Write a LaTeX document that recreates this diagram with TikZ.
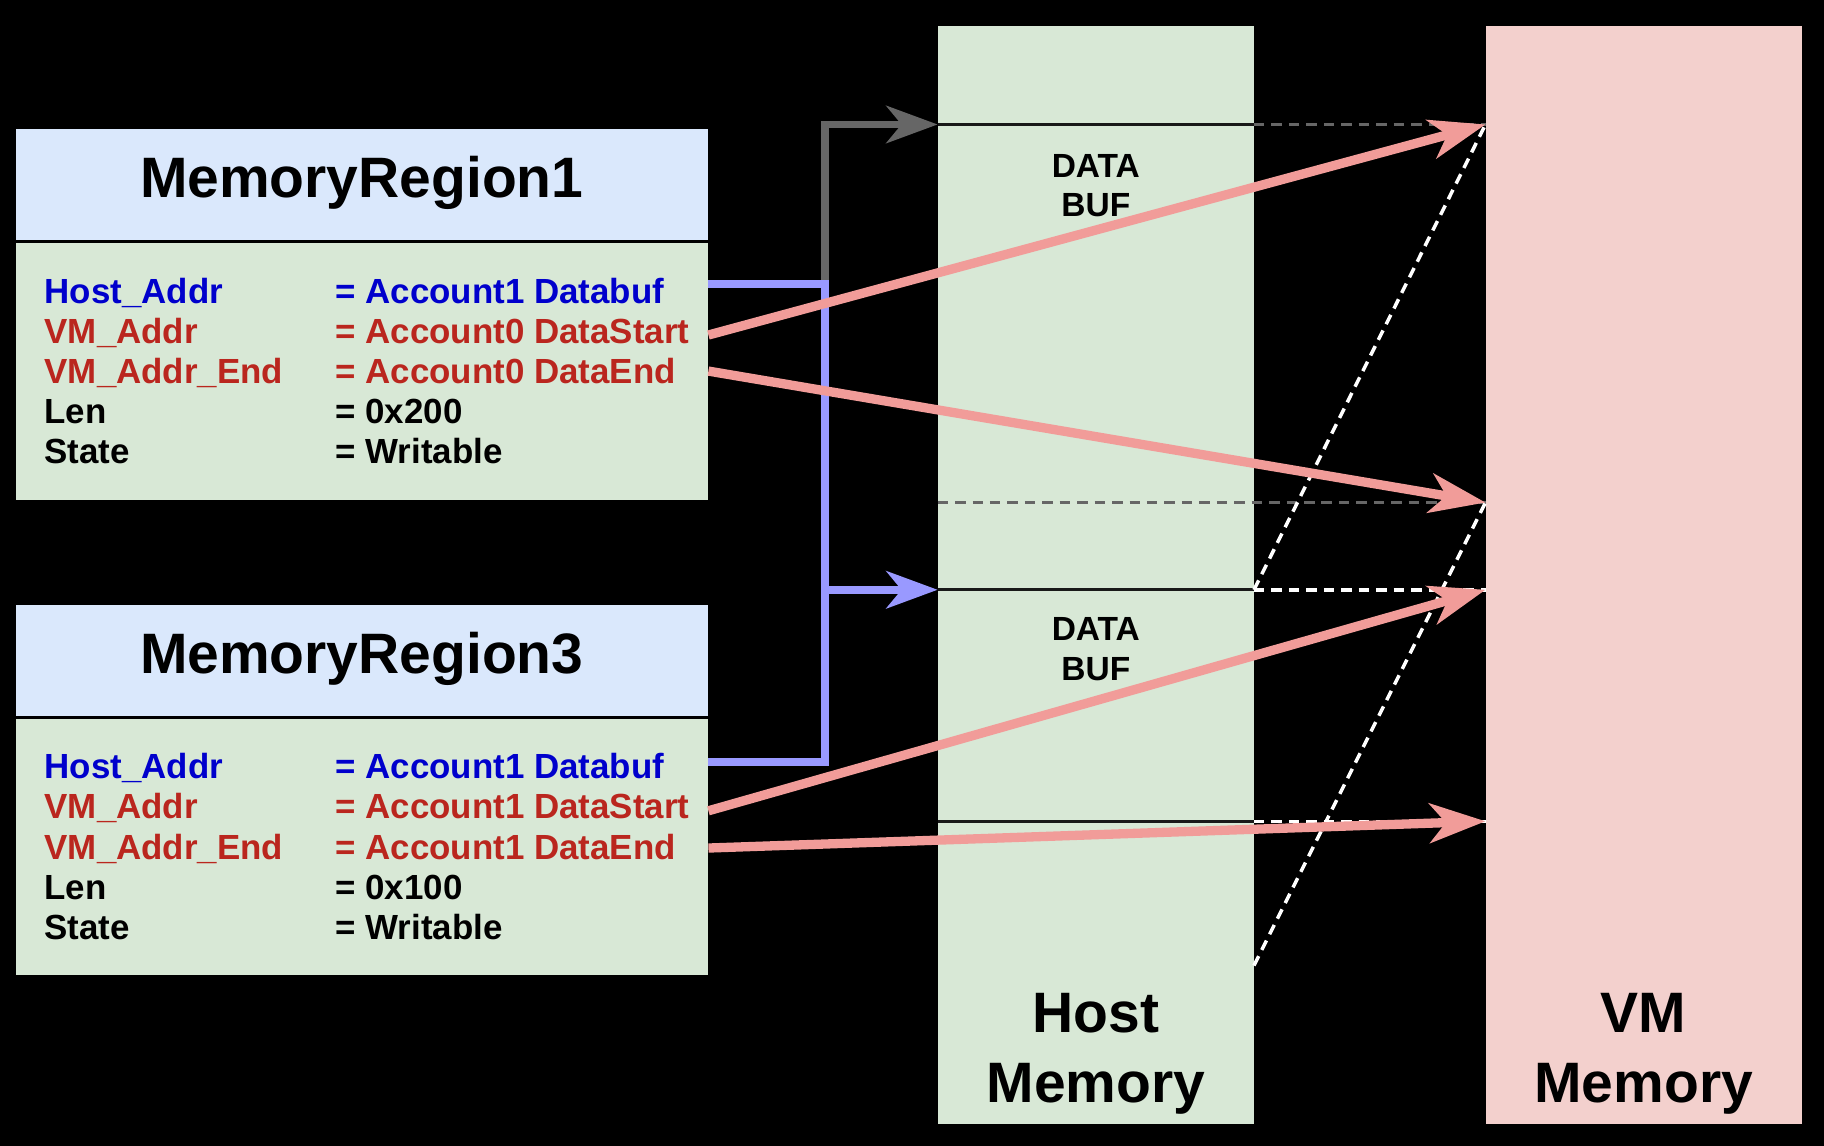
\documentclass[tikz,border=0pt]{standalone}
\usepackage{fontspec}
\setmainfont{Liberation Sans}
\usetikzlibrary{arrows.meta}
\definecolor{hdr}{HTML}{DAE8FC}
\definecolor{grn}{HTML}{D8E8D6}
\definecolor{vmc}{HTML}{F3D0CD}
\definecolor{bluet}{HTML}{0000CC}
\definecolor{redt}{HTML}{BA261E}
\definecolor{pinkc}{HTML}{F19C99}
\definecolor{lav}{HTML}{9999FF}
\definecolor{grayc}{HTML}{666666}
\begin{document}
\begin{tikzpicture}[x=0.5pt,y=-0.5pt,
  boxnw/.style={anchor=north west,inner sep=0pt,outer sep=0pt,draw=black,line width=0.8pt},
  rowtxt/.style={anchor=base west,inner sep=0pt,font=\fontsize{15}{18}\selectfont\bfseries},
  titletxt/.style={anchor=base,inner sep=0pt,font=\fontsize{24.5}{29}\selectfont\bfseries},
  buftxt/.style={anchor=base,inner sep=0pt,font=\fontsize{14.4}{17}\selectfont\bfseries},
  tip/.style={-{Stealth[length=22pt,width=16pt,inset=6.5pt]}},
  pinktip/.style={-{Stealth[length=24pt,width=17pt,inset=7pt]}},
  pinkarrow/.style={pinktip,draw=pinkc,line width=4pt},
  lavline/.style={draw=lav,line width=3.4pt},
  grayline/.style={draw=grayc,line width=3.4pt},
  sepline/.style={draw=black!90,line width=1.3pt},
  graydash/.style={draw=grayc,line width=1.5pt,dash pattern=on 4.5pt off 3pt},
  whitedash/.style={draw=white,line width=1.5pt,dash pattern=on 4.5pt off 3pt}
]
\fill[black] (0,0) rectangle (1568,985);
\useasboundingbox (0,0) rectangle (1568,985);

% memory columns
\node[boxnw,draw=none,fill=grn,minimum width=136pt,minimum height=472pt] (host) at (806,22) {};
\node[boxnw,draw=none,fill=vmc,minimum width=136pt,minimum height=472pt] (vm) at (1277,22) {};

% region boxes
\node[boxnw,fill=hdr,minimum width=298pt,minimum height=48.5pt] (h1) at (13,110) {};
\node[boxnw,fill=grn,minimum width=298pt,minimum height=111.5pt] (b1) at (13,208) {};
\node[boxnw,fill=hdr,minimum width=298pt,minimum height=48.5pt] (h3) at (13,519) {};
\node[boxnw,fill=grn,minimum width=298pt,minimum height=111pt] (b3) at (13,617) {};

\node[titletxt] (t1) at (311,170) {MemoryRegion1};
\node[titletxt] (t3) at (311,579) {MemoryRegion3};

% region 1 rows
\node[rowtxt,text=bluet] (r1a) at (38,260.5) {Host\_Addr};
\node[rowtxt,text=bluet] (r1av) at (288,260.5) {= Account1 Databuf};
\node[rowtxt,text=redt] (r1b) at (38,295) {VM\_Addr};
\node[rowtxt,text=redt] (r1bv) at (288,295) {= Account0 DataStart};
\node[rowtxt,text=redt] (r1c) at (38,329.5) {VM\_Addr\_End};
\node[rowtxt,text=redt] (r1cv) at (288,329.5) {= Account0 DataEnd};
\node[rowtxt] (r1d) at (38,364) {Len};
\node[rowtxt] (r1dv) at (288,364) {= 0x200};
\node[rowtxt] (r1e) at (38,398.5) {State};
\node[rowtxt] (r1ev) at (288,398.5) {= Writable};

% region 3 rows
\node[rowtxt,text=bluet] (r3a) at (38,669.5) {Host\_Addr};
\node[rowtxt,text=bluet] (r3av) at (288,669.5) {= Account1 Databuf};
\node[rowtxt,text=redt] (r3b) at (38,704) {VM\_Addr};
\node[rowtxt,text=redt] (r3bv) at (288,704) {= Account1 DataStart};
\node[rowtxt,text=redt] (r3c) at (38,738.5) {VM\_Addr\_End};
\node[rowtxt,text=redt] (r3cv) at (288,738.5) {= Account1 DataEnd};
\node[rowtxt] (r3d) at (38,773) {Len};
\node[rowtxt] (r3dv) at (288,773) {= 0x100};
\node[rowtxt] (r3e) at (38,807.5) {State};
\node[rowtxt] (r3ev) at (288,807.5) {= Writable};

% column labels
\node[buftxt] (d1a) at (942,153) {DATA};
\node[buftxt] (d1b) at (942,186) {BUF};
\node[buftxt] (d2a) at (942,551) {DATA};
\node[buftxt] (d2b) at (942,585) {BUF};
\node[titletxt] (hm1) at (942,888) {Host};
\node[titletxt] (hm2) at (942,947.5) {Memory};
\node[titletxt] (vm1) at (1413,888) {VM};
\node[titletxt] (vm2) at (1413,947.5) {Memory};

% coordinates
\coordinate (hl107) at (806,107);
\coordinate (hr107) at (1078,107);
\coordinate (vl107) at (1277,107);
\coordinate (hl432) at (806,432);
\coordinate (vl432) at (1277,432);
\coordinate (hl507) at (806,507);
\coordinate (hr507) at (1078,507);
\coordinate (vl507) at (1277,507);
\coordinate (hl706) at (806,706);
\coordinate (hr706) at (1078,706);
\coordinate (vl706) at (1277,706);
\coordinate (hr830) at (1078,830);

\coordinate (s1a) at (609,244);
\coordinate (s1b) at (609,288);
\coordinate (s1c) at (609,319);
\coordinate (s3a) at (609,655);
\coordinate (s3b) at (609,697);
\coordinate (s3c) at (609,729);
\coordinate (j1) at (709,244);
\coordinate (jm) at (709,507);

% separators in host memory
\draw[sepline] (hl107) -- (hr107);
\draw[sepline] (hl507) -- (hr507);
\draw[sepline] (hl706) -- (hr706);
\draw[graydash] (hr107) -- (vl107);
\draw[graydash] (hl432) -- (vl432);
\draw[whitedash] (hr507) -- (vl507);
\draw[whitedash] (hr706) -- (vl706);
\draw[whitedash] (hr507) -- (vl107);
\draw[whitedash] (hr830) -- (vl432);

% host address connectors
\draw[grayline,tip] (j1) |- (hl107);
\draw[lavline] (s3a) -| (jm);
\draw[lavline,tip] (s1a) -| (jm) -- (hl507);

% vm address arrows
\draw[pinkarrow] (s1b) -- (vl107);
\draw[pinkarrow] (s1c) -- (vl432);
\draw[pinkarrow] (s3b) -- (vl507);
\draw[pinkarrow] (s3c) -- (vl706);
\end{tikzpicture}
\end{document}
